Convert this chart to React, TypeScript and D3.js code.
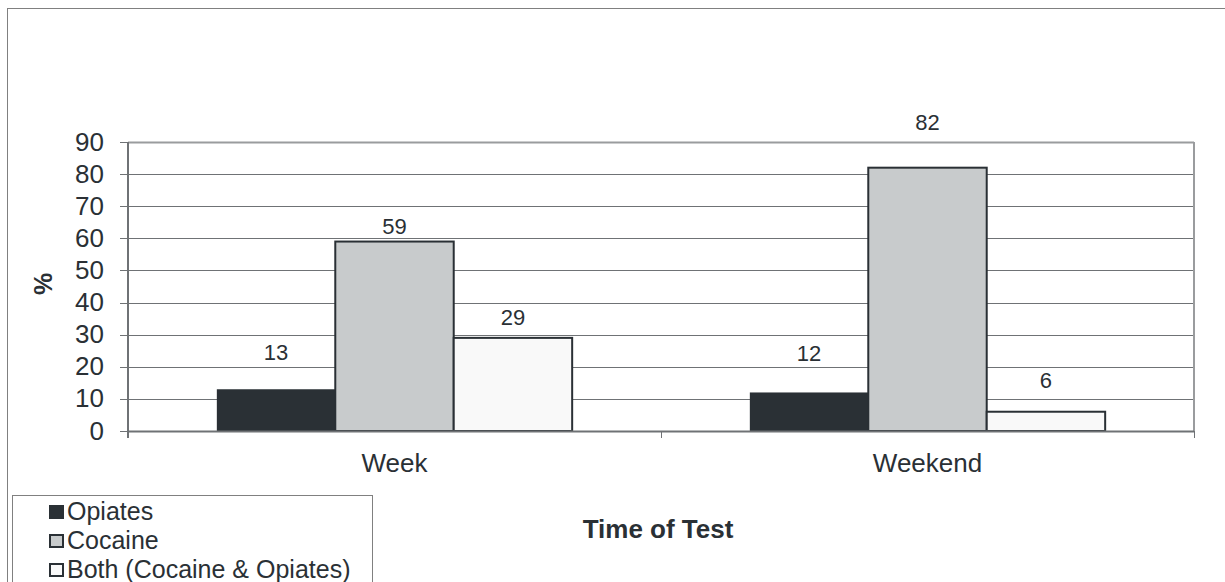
import React from "react";
import * as d3 from "d3";

const categories = ["Week", "Weekend"];
const seriesNames = ["Opiates", "Cocaine", "Both (Cocaine & Opiates)"];
const opiates = [13, 12];
const cocaine = [59, 82];
const both = [29, 6];
const yTicks = [0, 10, 20, 30, 40, 50, 60, 70, 80, 90];

const fills = ["#2a3035", "#c8cbcc", "#f9f9f9"];
// label lift above bar top (px), per series per category
const labelLift = [[37, 39], [15, 45], [21, 31]];

export default function App() {
  const W = 1225, H = 582;
  const left = 128, right = 1194, top = 142, bottom = 431;
  const y = d3.scaleLinear().domain([0, 90]).range([bottom, top]);
  const x0 = d3.scaleBand().domain(categories).range([left, right]).paddingInner(1 / 3).paddingOuter(1 / 6);
  const x1 = d3.scaleBand().domain(seriesNames).range([0, x0.bandwidth()]);
  const series = [opiates, cocaine, both];
  const font = "'Liberation Sans', Arial, sans-serif";
  const text = "#2a3035";

  return (
    <svg width={W} height={H} style={{ position: "absolute", left: 0, top: 0, background: "#fff" }} fontFamily={font}>
      <rect x={7.5} y={8.5} width={1240} height={600} fill="#fff" stroke="#808080" strokeWidth={1} />
      {/* gridlines */}
      {yTicks.map((t) => (
        <line key={"g" + t} x1={left} x2={right} y1={Math.round(y(t)) + 0.5} y2={Math.round(y(t)) + 0.5}
          stroke={t === 90 ? "#9a9c9e" : "#6f7275"} strokeWidth={t === 90 ? 2 : 1} />
      ))}
      <line x1={right} x2={right} y1={top} y2={bottom} stroke="#9a9c9e" strokeWidth={2} />
      {/* y ticks and labels */}
      {yTicks.map((t) => (
        <g key={"t" + t}>
          <line x1={120} x2={left} y1={Math.round(y(t)) + 0.5} y2={Math.round(y(t)) + 0.5} stroke="#6f7275" />
          <text x={104} y={y(t)} dy="0.33em" textAnchor="end" fontSize={26} fill={text}>{t}</text>
        </g>
      ))}
      {/* bars */}
      {categories.map((c, ci) => (
        <g key={c}>
          {seriesNames.map((s, si) => {
            const v = series[si][ci];
            const bx = (x0(c) as number) + (x1(s) as number);
            const bw = x1.bandwidth();
            return (
              <g key={s}>
                <rect x={bx} y={y(v)} width={bw} height={y(0) - y(v)} fill={fills[si]}
                  stroke={si === 0 ? "none" : "#2a3035"} strokeWidth={2} />
                <text x={bx + bw / 2} y={y(v) - labelLift[si][ci]} dy="0.35em" textAnchor="middle"
                  fontSize={22} fill={text}>{v}</text>
              </g>
            );
          })}
          <text x={(x0(c) as number) + x0.bandwidth() / 2} y={471.5} textAnchor="middle" fontSize={26} fill={text}>{c}</text>
        </g>
      ))}
      {/* axes */}
      <line x1={left} x2={left} y1={top} y2={bottom + 7} stroke="#6f7275" strokeWidth={2} />
      <line x1={left} x2={right} y1={bottom + 0.5} y2={bottom + 0.5} stroke="#6f7275" strokeWidth={2} />
      {[left + (right - left) / 2, right].map((tx, i) => (
        <line key={"xt" + i} x1={Math.round(tx) + 0.5} x2={Math.round(tx) + 0.5} y1={bottom} y2={bottom + 7} stroke="#6f7275" />
      ))}
      {/* axis titles */}
      <text transform="translate(43.5,284) rotate(-90)" textAnchor="middle" dy="0.35em" fontSize={25} fontWeight="bold" fill={text}>%</text>
      <text x={658} y={538} textAnchor="middle" fontSize={26} fontWeight="bold" fill={text}>Time of Test</text>
      {/* legend */}
      <rect x={12.5} y={495.5} width={360} height={100} fill="#fff" stroke="#808080" />
      {seriesNames.map((s, i) => (
        <g key={"l" + s}>
          <rect x={50} y={506 + i * 29} width={13} height={12} fill={fills[i]} stroke="#2a3035" strokeWidth={2} />
          <text x={67} y={519.5 + i * 29} fontSize={25} fill={text}>{s}</text>
        </g>
      ))}
    </svg>
  );
}
